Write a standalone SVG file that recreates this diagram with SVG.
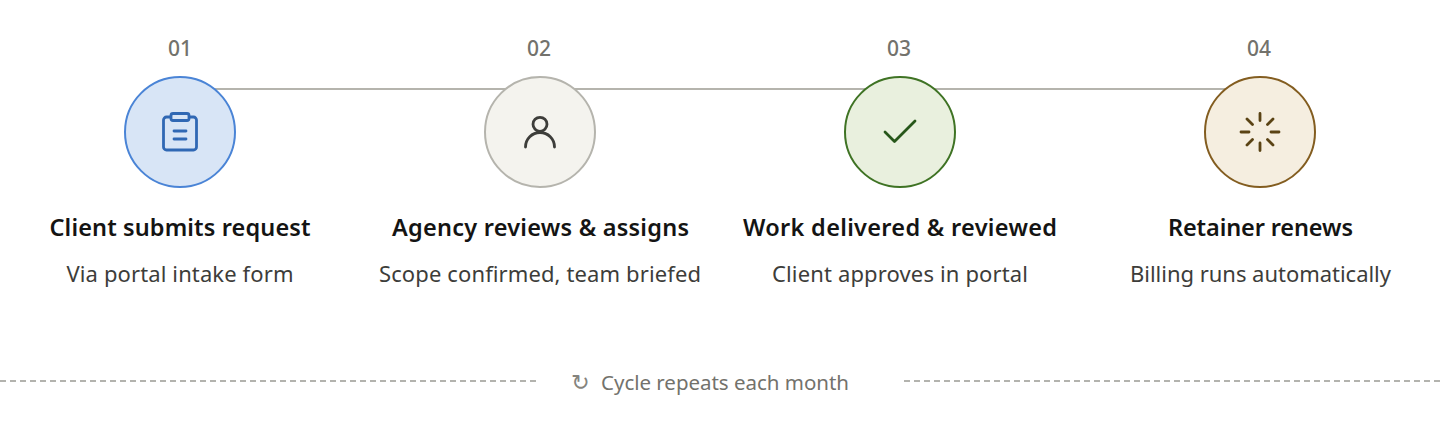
<svg xmlns="http://www.w3.org/2000/svg" width="1440" height="426" viewBox="0 0 1440 426">
<style>
text{font-family:"Noto Sans","Open Sans","Liberation Sans",sans-serif;text-anchor:middle}
.num{font-size:21px;font-weight:500;fill:#73726c}
.title{font-size:23.500px;font-weight:600;fill:#141413}
.sub{font-size:22px;fill:#3d3d3a}
.ic{fill:none;stroke-width:2.800;stroke-linecap:round;stroke-linejoin:round}
.c{stroke-width:2}
.dash{stroke:#9a9a94;stroke-width:1.500;stroke-dasharray:6 4;fill:none}
.glyph{font-family:"Noto Sans CJK SC","DejaVu Sans",sans-serif}
</style>
<rect width="1440" height="426" fill="#ffffff"/>
<g id="connectors"><line x1="180" y1="89" x2="1260" y2="89" stroke="#b5b4ad" stroke-width="2"/></g>
<g id="step-1">
<text class="num" x="180" y="56">01</text>
<circle class="c" cx="180" cy="132" r="55" fill="#d8e5f6" stroke="#4a84d6"/>
<g class="ic" stroke="#3068b4"><rect x="163.500" y="117" width="33" height="33" rx="3"/><rect x="171" y="113.500" width="18" height="7" rx="2" fill="#d8e5f6"/><path d="M174 131H186M174 139H186"/></g>
<text class="title" x="180" y="236" textLength="261">Client submits request</text>
<text class="sub" x="180" y="282" textLength="227">Via portal intake form</text>
</g>
<g id="step-2">
<text class="num" x="539" y="56">02</text>
<circle class="c" cx="540" cy="132" r="55" fill="#f4f3ee" stroke="#b5b4ad"/>
<g class="ic" stroke="#3d3d3a"><circle cx="540" cy="124.300" r="7"/><path d="M525.500 147C525.500 139 532 132.500 540 132.500S554.500 139 554.500 147"/></g>
<text class="title" x="540.500" y="236" textLength="297">Agency reviews &amp; assigns</text>
<text class="sub" x="540" y="282" textLength="322">Scope confirmed, team briefed</text>
</g>
<g id="step-3">
<text class="num" x="899" y="56">03</text>
<circle class="c" cx="900" cy="132" r="55" fill="#e9f0de" stroke="#3f7324"/>
<g class="ic" stroke="#27571a"><path d="M885 132L894.500 141.500L915 121"/></g>
<text class="title" x="900" y="236" textLength="314">Work delivered &amp; reviewed</text>
<text class="sub" x="900" y="282" textLength="256">Client approves in portal</text>
</g>
<g id="step-4">
<text class="num" x="1259" y="56">04</text>
<circle class="c" cx="1260" cy="132" r="55" fill="#f5eee0" stroke="#835d20"/>
<g class="ic" stroke="#5a4314"><path d="M1260 113.500V120.500M1260 143V150.500M1241 132H1249M1271 132H1279M1247 119L1252.500 124.500M1267.500 139.500L1273 145M1273 119L1267.500 124.500M1252.500 139.500L1247 145"/></g>
<text class="title" x="1260.500" y="236" textLength="185">Retainer renews</text>
<text class="sub" x="1260.500" y="282" textLength="261">Billing runs automatically</text>
</g>
<g id="footer">
<path class="dash" d="M0 381H536M904 381H1440"/>
<text class="glyph" x="580.500" y="390" font-size="22" fill="#85847e">↻</text>
<text x="725" y="390" font-size="20.500" fill="#73726c" textLength="248">Cycle repeats each month</text>
</g>
</svg>
